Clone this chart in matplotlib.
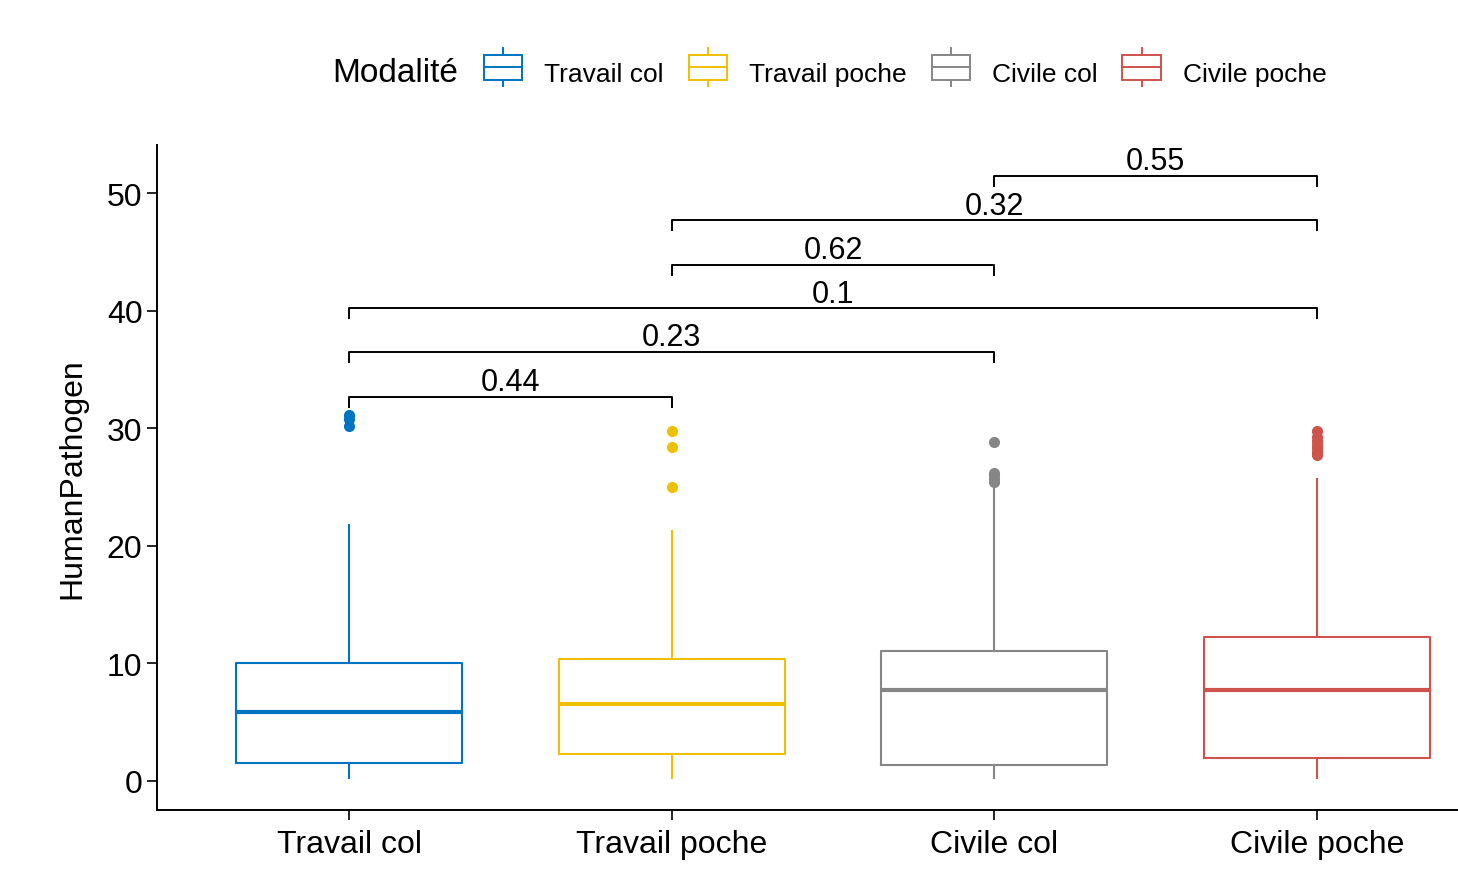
import matplotlib
matplotlib.use("Agg")
import matplotlib.pyplot as plt
from matplotlib.legend_handler import HandlerBase
from matplotlib.lines import Line2D
from matplotlib.patches import Rectangle

plt.rcParams["font.family"] = ["Liberation Sans", "DejaVu Sans"]

# ---------- data ----------
groups = ["Travail col", "Travail poche", "Civile col", "Civile poche"]
colors = ["#0073C2", "#EFC000", "#868686", "#CD534C"]

q1 = [1.5, 2.3, 1.35, 1.95]
med = [5.85, 6.55, 7.7, 7.7]
q3 = [10.0, 10.35, 11.05, 12.25]
whislo = [0.25, 0.25, 0.25, 0.25]
whishi = [21.8, 21.3, 25.3, 25.7]
fliers = [
    [30.2, 30.8, 31.1],
    [25.0, 28.4, 29.8],
    [25.4, 25.7, 26.0, 26.2, 28.8],
    [27.7, 28.0, 28.3, 28.6, 28.9, 29.3, 29.8],
]

# pairwise comparisons: (group i, group j, y, label)
comp_i = [1, 1, 1, 2, 2, 3]
comp_j = [2, 3, 4, 3, 4, 4]
comp_y = [32.7, 36.5, 40.2, 43.9, 47.7, 51.5]
comp_p = ["0.44", "0.23", "0.1", "0.62", "0.32", "0.55"]


class BoxKey(HandlerBase):
    def create_artists(self, legend, orig, xd, yd, w, h, fontsize, trans):
        c = orig.get_color()
        top, bot = yd + h * 1.05, yd - h * 0.05
        rect = Rectangle((xd, bot), w, top - bot, fill=False, ec=c, lw=1.4,
                         transform=trans)
        mid = Line2D([xd, xd + w], [(top + bot) / 2] * 2, color=c, lw=1.4,
                     transform=trans)
        up = Line2D([xd + w / 2] * 2, [top, top + h * 0.3], color=c, lw=1.4,
                    transform=trans)
        dn = Line2D([xd + w / 2] * 2, [bot, bot - h * 0.3], color=c, lw=1.4,
                    transform=trans)
        return [rect, mid, up, dn]


fig = plt.figure(figsize=(14.58, 8.7), dpi=100)
ax = fig.add_axes([0.1077, 0.0678, 0.8923, 0.7644])

stats = []
for k, g in enumerate(groups):
    stats.append(dict(label=g, q1=q1[k], med=med[k], q3=q3[k],
                      whislo=whislo[k], whishi=whishi[k], fliers=fliers[k]))

pos = list(range(1, len(groups) + 1))
bp = ax.bxp(stats, positions=pos, widths=0.7, showcaps=False,
            patch_artist=False)
for k, c in enumerate(colors):
    bp["boxes"][k].set(color=c, lw=1.5)
    bp["medians"][k].set(color=c, lw=3)
    for wl in bp["whiskers"][2 * k:2 * k + 2]:
        wl.set(color=c, lw=1.5)
    bp["fliers"][k].set(marker="o", markerfacecolor=c, markeredgecolor=c,
                        markersize=7)

for i, j, y, p in zip(comp_i, comp_j, comp_y, comp_p):
    ax.plot([i, i, j, j], [y - 0.85, y, y, y - 0.85], color="black", lw=1.4)
    ax.text((i + j) / 2, y - 0.05, p, ha="center", va="bottom", fontsize=22)

ax.set_xlim(0.405, 4.437)
ax.set_ylim(-2.47, 54.1)
ax.set_yticks([0, 10, 20, 30, 40, 50])
ax.set_xticks(pos)
ax.set_xticklabels(groups)
ax.tick_params(labelsize=23, length=7, width=1.2, colors="black")
ax.tick_params(axis="x", pad=7)
ax.set_ylabel("HumanPathogen", fontsize=23, labelpad=14)
ax.spines["top"].set_visible(False)
ax.spines["right"].set_visible(False)
for s in ("left", "bottom"):
    ax.spines[s].set_linewidth(1.4)

handles = [Line2D([], [], color=c) for c in colors]
fig.text(332 / 1458, 1 - 73 / 870, "Modalité", fontsize=24, ha="left",
         va="center")
fig.legend(handles, groups, handler_map={Line2D: BoxKey()}, ncol=4,
           loc="center left", bbox_to_anchor=(484 / 1458, 1 - 74 / 870),
           frameon=False, fontsize=19, handlelength=1.45, handleheight=0.95,
           handletextpad=0.83, columnspacing=0.95, borderpad=0,
           borderaxespad=0)

fig.savefig("out.png", dpi=100)
